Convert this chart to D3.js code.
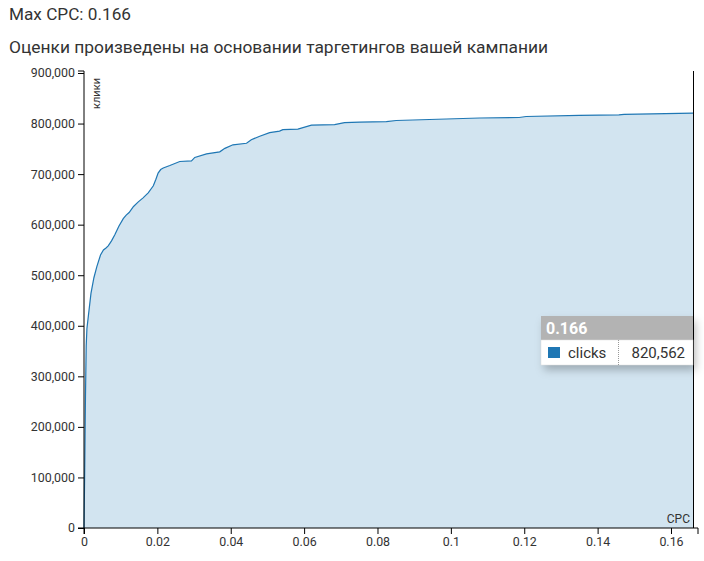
<!DOCTYPE html>
<html><head><meta charset="utf-8">
<script src="https://cdn.jsdelivr.net/npm/d3@7/dist/d3.min.js"></script>
<style>
body{margin:0;background:#fff;font-family:Roboto,"Noto Sans",sans-serif;}
</style></head>
<body>
<svg id="c" width="704" height="561"></svg>
<script>
const title = "Max CPC: 0.166";
const subtitle = "Оценки произведены на основании таргетингов вашей кампании";
const seriesName = "clicks";
const yLabel = "клики";
const xLabel = "CPC";
const cpc = [0, 0.0002, 0.0004, 0.0006, 0.0008, 0.0012, 0.0019, 0.0027, 0.0035, 0.0045, 0.0053, 0.006, 0.0066, 0.0075, 0.0084, 0.0095, 0.0107, 0.0115, 0.0123, 0.0135, 0.0148, 0.0161, 0.0175, 0.0189, 0.0196, 0.0202, 0.0209, 0.0216, 0.0234, 0.0261, 0.0293, 0.0302, 0.0334, 0.037, 0.0384, 0.0406, 0.0443, 0.0456, 0.0479, 0.0506, 0.0533, 0.0542, 0.0583, 0.062, 0.0683, 0.071, 0.0751, 0.0824, 0.0851, 0.0987, 0.1078, 0.1186, 0.1205, 0.135, 0.1458, 0.1472, 0.166];
const clicks = [0, 120000, 260000, 360000, 395000, 420000, 464000, 495000, 517000, 540000, 550000, 554000, 558000, 568000, 580000, 597000, 612000, 619000, 624000, 636000, 645000, 653000, 663000, 677000, 690000, 702000, 709000, 712000, 717000, 725000, 726000, 733000, 740000, 744000, 751000, 758000, 761000, 768000, 775000, 782000, 785000, 788000, 789000, 797000, 798000, 802000, 803000, 804000, 806000, 809000, 811000, 812000, 814000, 816000, 817000, 818000, 820562];
const xTicks = [0, 0.02, 0.04, 0.06, 0.08, 0.1, 0.12, 0.14, 0.16];
const yTicks = [0, 100000, 200000, 300000, 400000, 500000, 600000, 700000, 800000, 900000];
const tipTitle = "0.166";
const tipValue = 820562;

const data = cpc.map((c, i) => ({x: c, y: clicks[i]}));
const svg = d3.select("#c");
const font = "Roboto, 'Noto Sans', sans-serif";

svg.append("text").attr("x", 9).attr("y", 20).attr("font-size", 17.2).attr("fill", "#333").attr("font-family", font).text(title);
svg.append("text").attr("x", 9).attr("y", 53).attr("font-size", 17.4).attr("fill", "#333").attr("font-family", font).text(subtitle);

const x = d3.scaleLinear().domain([0, 0.166]).range([84, 693]);
const y = d3.scaleLinear().domain([0, 900000]).range([528, 73]);

svg.append("path").datum(data)
  .attr("fill", "rgb(210,228,240)")
  .attr("d", d3.area().x(d => x(d.x)).y0(y(0)).y1(d => y(d.y)));
svg.append("path").datum(data)
  .attr("fill", "none").attr("stroke", "#1f77b4").attr("stroke-width", 1.2)
  .attr("d", d3.line().x(d => x(d.x)).y(d => y(d.y)));

// right border
svg.append("line").attr("x1", 693.5).attr("x2", 693.5).attr("y1", 71).attr("y2", 528).attr("stroke", "#000");

const fmt = d3.format(",");
const gy = svg.append("g").attr("transform", "translate(84,0)")
  .call(d3.axisLeft(y).tickValues(yTicks).tickFormat(fmt).tickSizeOuter(6));
gy.select(".domain").attr("d", "M-6,71H0V528H-6");
gy.selectAll("text").attr("font-size", 12.4).attr("font-family", font).attr("fill", "#333");

const gx = svg.append("g").attr("transform", "translate(0,528)")
  .call(d3.axisBottom(x).tickValues(xTicks).tickFormat(d => String(d)).tickSizeOuter(6));
gx.select(".domain").attr("d", "M84,6V0H698V6");
gx.selectAll("text").attr("font-size", 12.4).attr("font-family", font).attr("fill", "#333");

svg.append("text").attr("transform", "translate(100,78) rotate(-90)").attr("text-anchor", "end")
  .attr("font-size", 11).attr("font-family", font).attr("fill", "#333").text(yLabel);
svg.append("text").attr("x", 690).attr("y", 523).attr("text-anchor", "end")
  .attr("font-size", 12).attr("font-family", font).attr("fill", "#333").text(xLabel);

// tooltip
const tip = svg.append("g").attr("transform", "translate(541,316)");
const defs = svg.append("defs");
const f = defs.append("filter").attr("id", "sh").attr("x", "-20%").attr("y", "-20%").attr("width", "140%").attr("height", "160%");
f.append("feDropShadow").attr("dx", 3).attr("dy", 5).attr("stdDeviation", 4).attr("flood-color", "#000").attr("flood-opacity", 0.25);
tip.append("rect").attr("width", 152).attr("height", 49).attr("fill", "#fff").attr("filter", "url(#sh)");
tip.append("rect").attr("width", 152).attr("height", 24).attr("fill", "#b3b3b3");
tip.append("rect").attr("y", 24).attr("width", 152).attr("height", 25).attr("fill", "#fff").attr("stroke", "#ddd").attr("stroke-width", 0.5);
tip.append("text").attr("x", 5).attr("y", 18).attr("font-size", 16).attr("font-weight", "bold").attr("fill", "#fff").attr("font-family", font).text(tipTitle);
tip.append("rect").attr("x", 7).attr("y", 31).attr("width", 12).attr("height", 11).attr("fill", "#1f77b4");
tip.append("text").attr("x", 27).attr("y", 42).attr("font-size", 15).attr("fill", "#333").attr("font-family", font).text(seriesName);
tip.append("line").attr("x1", 77.5).attr("x2", 77.5).attr("y1", 24).attr("y2", 49).attr("stroke", "#999").attr("stroke-dasharray", "1,1");
tip.append("text").attr("x", 144).attr("y", 42).attr("text-anchor", "end").attr("font-size", 15).attr("fill", "#333").attr("font-family", font).text(fmt(tipValue));
</script>
</body></html>
